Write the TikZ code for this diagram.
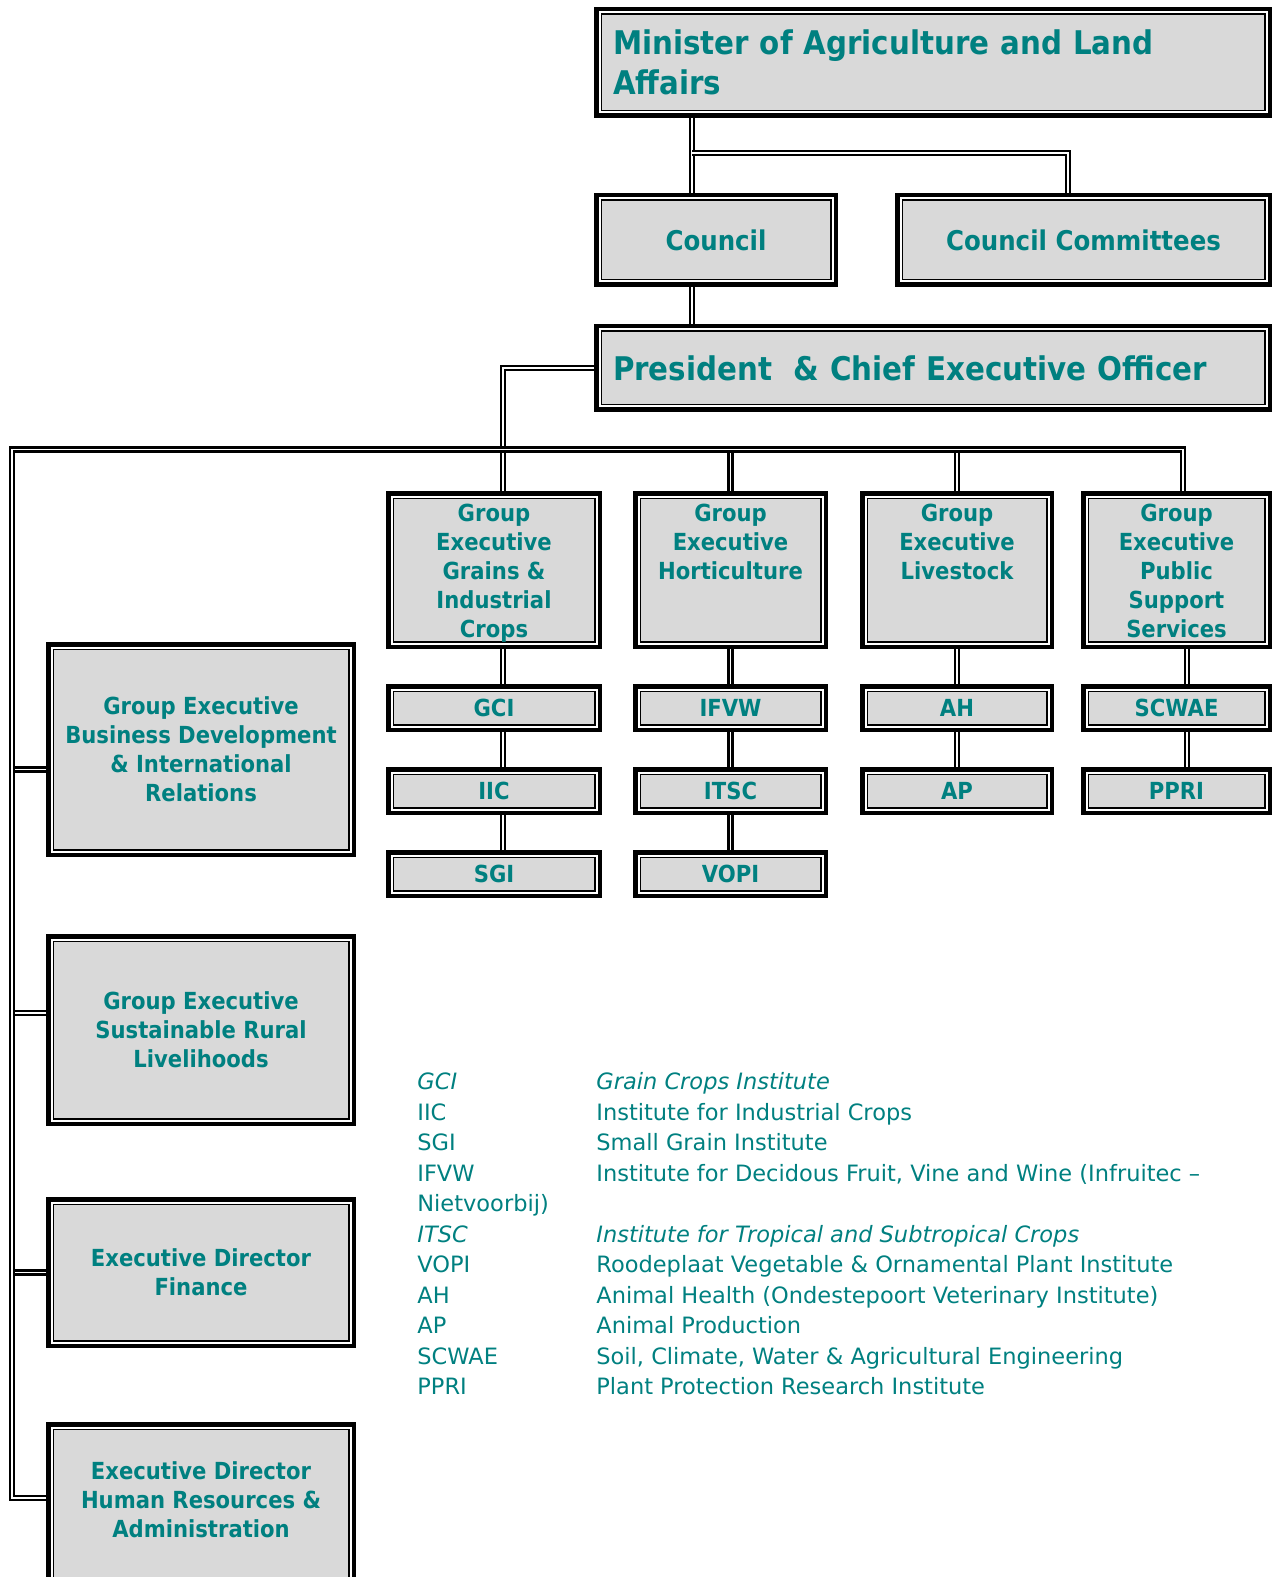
\documentclass[tikz,border=0pt]{standalone}
\usepackage{fontspec}
\setmainfont{DejaVu Sans}
\newfontfamily\boxfont[FakeStretch=0.9]{DejaVu Sans}
\usetikzlibrary{positioning}

\definecolor{orgteal}{RGB}{0,128,128}
\definecolor{orggrey}{RGB}{217,217,217}

% text hanging from the top of a group executive box
\newcommand{\topalign}[1]{\parbox[c][69pt][t]{88pt}{\centering\strut #1}}

\begin{document}
\begin{tikzpicture}[
  x=0.5pt, y=-0.5pt,
  node distance=17.5pt,
  box/.style={rectangle, fill=orggrey, draw=black, line width=0.8pt, double=white, double distance=1pt,
    preaction={draw=black, line width=5.5pt}, outer sep=2.75pt, inner sep=0pt,
    text=orgteal, align=center, font=\boxfont\bfseries\fontsize{11.75}{14.5}\selectfont},
  titlebox/.style={box, align=left, text width=320pt, minimum width=333.5pt,
    font=\boxfont\bfseries\fontsize{16.3}{20}\selectfont},
  councilbox/.style={box, minimum height=41.5pt, font=\boxfont\bfseries\fontsize{13.6}{16}\selectfont},
  gebox/.style={box, minimum height=73.5pt},
  subbox/.style={box, minimum height=18.5pt},
  sidebox/.style={box, minimum width=149.5pt},
  boxtext/.style={text=orgteal, align=center, inner sep=0pt, font=\boxfont\bfseries\fontsize{11.75}{14.5}\selectfont},
  keytext/.style={text=orgteal, inner sep=0pt, font=\fontsize{11.25}{15.25}\selectfont},
  link/.style={draw=black, line width=1.3pt, double=white, double distance=0.7pt}
]
\useasboundingbox (0,0) rectangle (1277,1577);

% Top of the tree
\node[titlebox, minimum height=50pt] (minister) at (933,62.5) {Minister of Agriculture and Land\\Affairs};
\node[councilbox, minimum width=116.5pt] (council) at (716,240) {Council};
\node[councilbox, minimum width=183pt] (committees) at (1083.5,240) {Council Committees};
\node[titlebox, minimum height=38.5pt] (president) at (933,368) {President\ \ \& Chief Executive Officer};

% Group executives
\node[gebox, minimum width=102.5pt] (gegic) at (494,570) {\topalign{Group\\Executive\\Grains \&\\Industrial\\Crops}};
\node[gebox, minimum width=92pt] (gehort) at (730.5,570) {\topalign{Group\\Executive\\Horticulture}};
\node[gebox, minimum width=91.5pt] (gelive) at (957,570) {\topalign{Group\\Executive\\Livestock}};
\node[gebox, minimum width=90pt] (gepss) at (1176.5,570) {\topalign{Group\\Executive\\Public\\Support\\Services}};

% Institutes
\node[subbox, minimum width=102.5pt, below=of gegic] (gci) {GCI};
\node[subbox, minimum width=102.5pt, below=of gci] (iic) {IIC};
\node[subbox, minimum width=102.5pt, below=of iic] (sgi) {SGI};
\node[subbox, minimum width=92pt, below=of gehort] (ifvw) {IFVW};
\node[subbox, minimum width=92pt, below=of ifvw] (itsc) {ITSC};
\node[subbox, minimum width=92pt, below=of itsc] (vopi) {VOPI};
\node[subbox, minimum width=91.5pt, below=of gelive] (ah) {AH};
\node[subbox, minimum width=91.5pt, below=of ah] (ap) {AP};
\node[subbox, minimum width=90pt, below=of gepss] (scwae) {SCWAE};
\node[subbox, minimum width=90pt, below=of scwae] (ppri) {PPRI};

% Left column
\node[sidebox, minimum height=102pt] (gebd) at (201,749.5) {Group Executive\\Business Development\\\& International\\Relations};
\node[sidebox, minimum height=90.5pt] (gesrl) at (201,1030) {Group Executive\\Sustainable Rural\\Livelihoods};
\node[sidebox, minimum height=70pt] (edfin) at (201,1272.5) {Executive Director\\Finance};
\node[sidebox, minimum height=110pt, anchor=north] (edhr) at (201,1422) {};
\node[boxtext] (edhrtext) at (201,1500) {Executive Director\\Human Resources \&\\Administration};

% Connectors
\coordinate (trunk) at (692,153);
\coordinate (ccdrop) at (1068,153);
\coordinate (busL) at (12,449.5);
\coordinate (busP) at (503,449.5);

\draw[link] (minister.south -| trunk) -- (council.north -| trunk);
\draw[link] (trunk) -- (ccdrop) -- (committees.north -| ccdrop);
\draw[link] (council.south -| trunk) -- (president.north -| trunk);
\draw[link] (president.west) -| (busP);
\foreach \g/\s in {gegic/4.5pt, gehort/0pt, gelive/0pt}
  \draw[link] ([xshift=\s]\g.north) -- ([xshift=\s]\g.north |- busL);
\foreach \a/\b/\s in {gegic/gci/4.5pt, gci/iic/4.5pt, iic/sgi/4.5pt, gehort/ifvw/0pt, ifvw/itsc/0pt,
    itsc/vopi/0pt, gelive/ah/0pt, ah/ap/0pt, gepss/scwae/5.25pt, scwae/ppri/5.25pt}
  \draw[link] ([xshift=\s]\a.south) -- ([xshift=\s]\b.north);
\draw[link] ([yshift=-10pt]gebd.west) -| (busL);
\draw[link] ([yshift=8.5pt]gesrl.west) -| (busL);
\draw[link] (edfin.west) -| (busL);
\draw[link] ([yshift=19.75pt]edhr.west) -| (busL) -- ([xshift=3.25pt]gepss.north |- busL) -- ([xshift=3.25pt]gepss.north);

% Key to the abbreviations
\node[keytext, anchor=north west] (key) at (417,1068.2) {%
  \begin{tabular}{@{}p{89.5pt}@{}l@{}}
  \textit{GCI} & \textit{Grain Crops Institute}\\
  IIC & Institute for Industrial Crops\\
  SGI & Small Grain Institute\\
  IFVW & Institute for Decidous Fruit, Vine and Wine (Infruitec --\\
  Nietvoorbij) & \\
  \textit{ITSC} & \textit{Institute for Tropical and Subtropical Crops}\\
  VOPI & Roodeplaat Vegetable \& Ornamental Plant Institute\\
  AH & Animal Health (Ondestepoort Veterinary Institute)\\
  AP & Animal Production\\
  SCWAE & Soil, Climate, Water \& Agricultural Engineering\\
  PPRI & Plant Protection Research Institute
  \end{tabular}};

\end{tikzpicture}
\end{document}
